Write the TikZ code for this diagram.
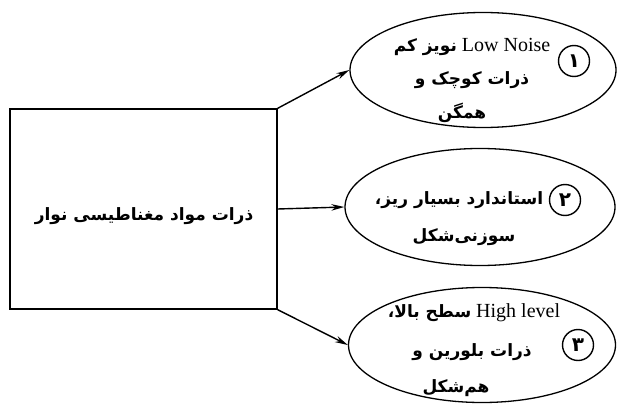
\documentclass[tikz,border=0pt]{standalone}
\usepackage{fontspec}
\setmainfont{Liberation Serif}
\newfontfamily\fa[Script=Arabic]{DejaVu Sans}
\TeXXeTstate=1
\usetikzlibrary{shapes.geometric,arrows.meta}
\begin{document}
\begin{tikzpicture}[x=1pt,y=-1pt,
  conn/.style={line width=1.4pt,-{Stealth[length=13pt,width=6.5pt]}},
  oval/.style={ellipse, draw, line width=1.3pt, inner sep=0pt},
  boxst/.style={draw, line width=1.4pt, minimum width=267pt, minimum height=200pt, inner sep=0pt},
  num/.style={circle, draw, line width=1.4pt, minimum size=31pt, inner sep=0pt, font=\fa\bfseries\fontsize{20}{20}\selectfont},
  fat/.style={inner sep=0pt, font=\fa\bfseries\fontsize{17}{20}\selectfont},
  lat/.style={inner sep=0pt, font=\fontsize{20}{22}\selectfont},
  ]
\useasboundingbox (0,0) rectangle (617,406);
\node[boxst] (box) at (143.5,209) {};
\node[fat] (boxtxt) at (144,216) {\beginR ذرات مواد مغناطیسی نوار\endR};

\node[oval, minimum width=266pt, minimum height=115pt] (e1) at (483,70) {};
\node[oval, minimum width=270pt, minimum height=117pt] (e2) at (480,207) {};
\node[oval, minimum width=267pt, minimum height=115pt] (e3) at (482,345) {};

\node[num] (c1) at (574,61) {\beginR ۱\endR};
\node[num] (c2) at (565,200) {\beginR ۲\endR};
\node[num] (c3) at (578,345) {\beginR ۳\endR};

\node[lat] (a1) at (472,47) {{\fa\bfseries\fontsize{17}{20}\selectfont\beginR نویز کم\endR} Low Noise};
\node[fat] (a2) at (472,80) {\beginR ذرات کوچک و\endR};
\node[fat] (a3) at (462,113) {\beginR همگن\endR};

\node[fat] (b1) at (459,200) {\beginR استاندارد بسیار ریز،\endR};
\node[fat] (b2) at (464,237) {\beginR سوزنی‌شکل\endR};

\node[lat] (d1) at (474,313) {{\fa\bfseries\fontsize{17}{20}\selectfont\beginR سطح بالا،\endR} High level};
\node[fat] (d2) at (472,352) {\beginR ذرات بلورین و\endR};
\node[fat] (d3) at (456,388) {\beginR هم‌شکل\endR};

\draw[conn] (box.north east) -- (e1.west);
\draw[conn] (box.east) -- (e2.west);
\draw[conn] (box.south east) -- (e3.west);
\end{tikzpicture}
\end{document}
